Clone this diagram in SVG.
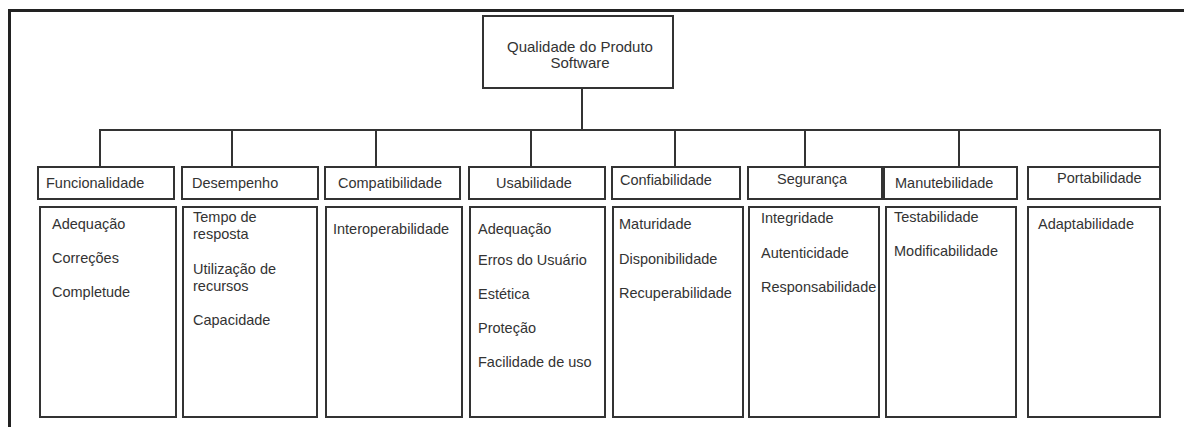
<svg xmlns="http://www.w3.org/2000/svg" width="1184" height="427" viewBox="0 0 1184 427">
<style>
.box{fill:#fff;stroke:#333;stroke-width:2}
.ln{fill:none;stroke:#333;stroke-width:2}
.frame{fill:none;stroke:#222;stroke-width:3}
text{font-family:"Liberation Sans",Arial,sans-serif;font-size:14.5px;fill:#333}
.c{text-anchor:middle}
.root{font-size:15px}
</style>
<rect width="1184" height="427" fill="#fff"/>
<path class="frame" d="M9.5,427 V10.5 H1184"/>
<g id="connectors">
<path class="ln" d="M582,88 V130"/>
<path class="ln" d="M100,167 V130 H1160 V167"/>
<path class="ln" d="M232,130 V167 M376,130 V167 M531,130 V167 M675,130 V167 M805,130 V167 M959,130 V167"/>
</g>
<g id="root">
<rect class="box" x="483" y="16" width="190" height="72"/>
<text class="c root" x="580" y="52">Qualidade do Produto</text>
<text class="c root" x="580" y="68">Software</text>
</g>
<g id="funcionalidade">
<rect class="box" x="38" y="167" width="136" height="32"/>
<text x="46" y="188">Funcionalidade</text>
<rect class="box" x="40" y="207" width="136" height="210"/>
<text x="52" y="229">Adequação</text>
<text x="52" y="263">Correções</text>
<text x="52" y="297">Completude</text>
</g>
<g id="desempenho">
<rect class="box" x="182" y="167" width="136" height="32"/>
<text x="192" y="188">Desempenho</text>
<rect class="box" x="183" y="207" width="134" height="210"/>
<text x="193" y="222">Tempo de</text>
<text x="193" y="239">resposta</text>
<text x="193" y="274">Utilização de</text>
<text x="193" y="291">recursos</text>
<text x="193" y="325">Capacidade</text>
</g>
<g id="compatibilidade">
<rect class="box" x="325" y="167" width="135" height="32"/>
<text x="338" y="188">Compatibilidade</text>
<rect class="box" x="326" y="207" width="136" height="210"/>
<text x="333" y="234">Interoperabilidade</text>
</g>
<g id="usabilidade">
<rect class="box" x="469" y="167" width="136" height="32"/>
<text x="496" y="188">Usabilidade</text>
<rect class="box" x="470" y="207" width="135" height="210"/>
<text x="478" y="234">Adequação</text>
<text x="478" y="265">Erros do Usuário</text>
<text x="478" y="299">Estética</text>
<text x="478" y="333">Proteção</text>
<text x="478" y="367">Facilidade de uso</text>
</g>
<g id="confiabilidade">
<rect class="box" x="612" y="167" width="128" height="32"/>
<text x="620" y="185">Confiabilidade</text>
<rect class="box" x="613" y="207" width="130" height="210"/>
<text x="619" y="229">Maturidade</text>
<text x="619" y="264">Disponibilidade</text>
<text x="619" y="298">Recuperabilidade</text>
</g>
<g id="seguranca">
<rect class="box" x="748" y="167" width="134" height="32"/>
<text x="777" y="184">Segurança</text>
<rect class="box" x="749" y="207" width="130" height="210"/>
<text x="761" y="223">Integridade</text>
<text x="761" y="258">Autenticidade</text>
<text x="761" y="292">Responsabilidade</text>
</g>
<g id="manutebilidade">
<rect class="box" x="884" y="167" width="133" height="32"/>
<text x="895" y="188">Manutebilidade</text>
<rect class="box" x="886" y="207" width="130" height="210"/>
<text x="894" y="222">Testabilidade</text>
<text x="894" y="256">Modificabilidade</text>
</g>
<g id="portabilidade">
<rect class="box" x="1028" y="167" width="132" height="32"/>
<text x="1057" y="183">Portabilidade</text>
<rect class="box" x="1028" y="207" width="132" height="210"/>
<text x="1038" y="229">Adaptabilidade</text>
</g>
</svg>
